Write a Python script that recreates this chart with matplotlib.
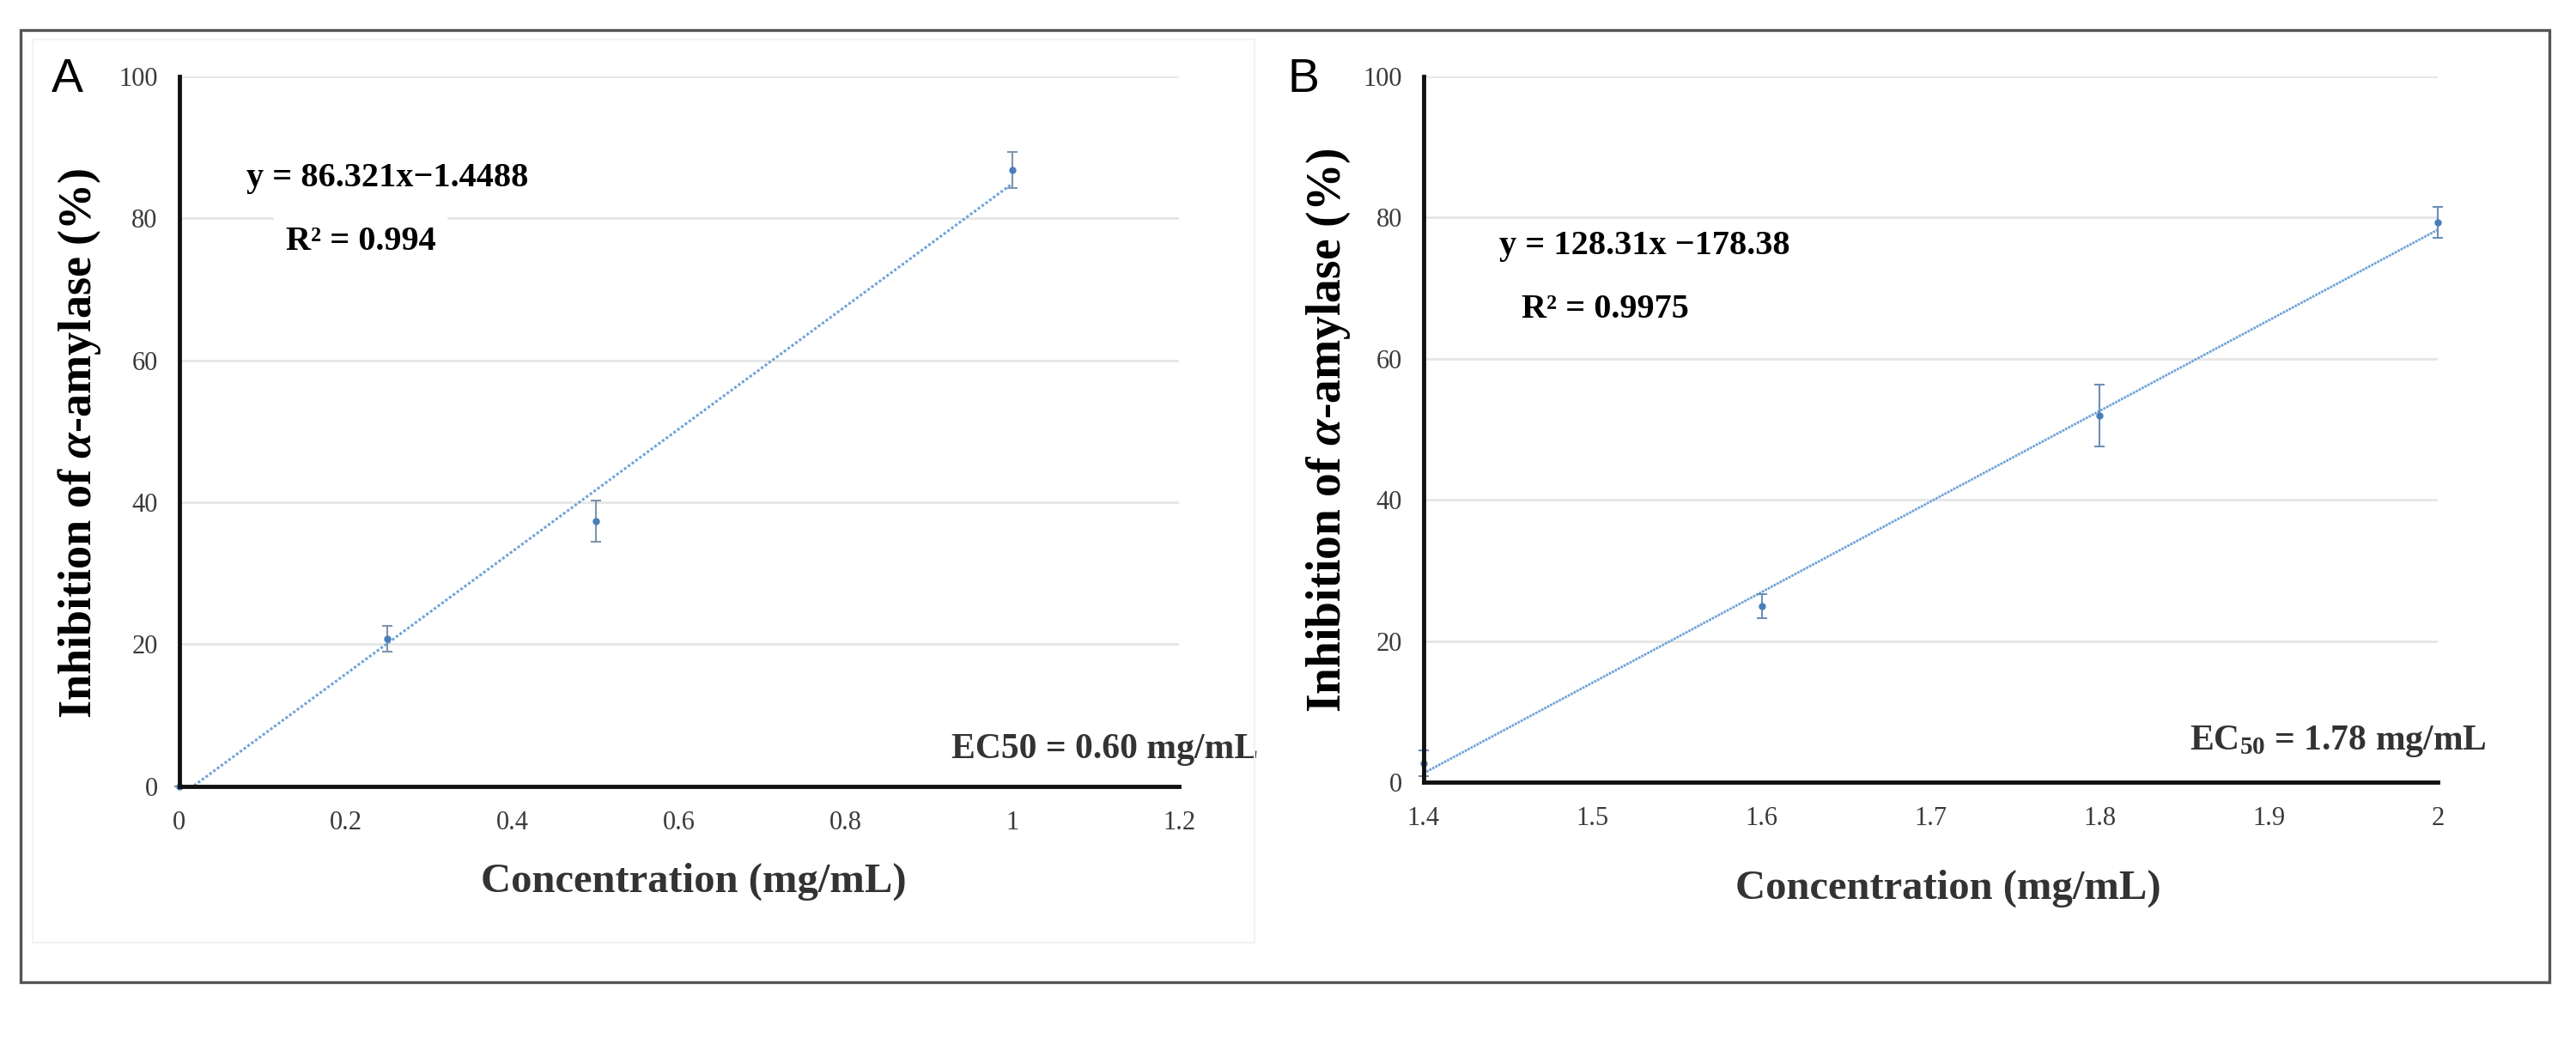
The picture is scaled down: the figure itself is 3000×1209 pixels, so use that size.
import matplotlib
matplotlib.use("Agg")
from matplotlib import pyplot as plt
from matplotlib.patches import Rectangle
import numpy as np

plt.rcParams['font.family'] = ['Liberation Serif', 'DejaVu Serif']
plt.rcParams['mathtext.fontset'] = 'custom'
plt.rcParams['mathtext.rm'] = 'Liberation Serif:bold'
plt.rcParams['mathtext.bf'] = 'Liberation Serif:bold'
plt.rcParams['mathtext.it'] = 'Liberation Serif:italic:bold'

# data
conc_a = [0, 0.25, 0.5, 1.0]
inh_a = [0.0, 20.8, 37.4, 86.8]
err_a = [0.0, 1.8, 2.9, 2.5]
slope_a, icpt_a = 86.321, -1.4488
xticks_a = [0, 0.2, 0.4, 0.6, 0.8, 1, 1.2]
xlabels_a = ['0', '0.2', '0.4', '0.6', '0.8', '1', '1.2']

conc_b = [1.4, 1.6, 1.8, 2.0]
inh_b = [2.7, 24.9, 51.9, 79.3]
err_b = [1.8, 1.7, 4.4, 2.2]
slope_b, icpt_b = 128.31, -178.38
xticks_b = [1.4, 1.5, 1.6, 1.7, 1.8, 1.9, 2.0]
xlabels_b = ['1.4', '1.5', '1.6', '1.7', '1.8', '1.9', '2']

yticks = [0, 20, 40, 60, 80, 100]

line_col = '#6fa3d8'
pt_col = '#4a7ebb'
tick_col = '#3a3a3a'

fig = plt.figure(figsize=(30, 12.09), dpi=100)

# outer frame + faint inner box of panel A
fig.add_artist(Rectangle((0.008, 0.054), 0.9815, 0.917, transform=fig.transFigure,
                         fill=False, edgecolor='#555555', linewidth=2.4))
fig.add_artist(Rectangle((0.0127, 0.0918), 0.4743, 0.87, transform=fig.transFigure,
                         fill=False, edgecolor='#f3f3f3', linewidth=1.5))

ax_a = fig.add_axes([0.0695, 0.2424, 0.3882, 0.6842])
ax_b = fig.add_axes([0.5526, 0.2465, 0.3937, 0.6801])


def style_axes(ax, xlim, xticks, xlabels):
    ax.set_xlim(*xlim)
    ax.set_ylim(0, 100)
    ax.set_xticks(xticks)
    ax.set_xticklabels(xlabels)
    ax.set_yticks(yticks)
    ax.grid(axis='y', color='#e6e6e6', linewidth=2)
    ax.set_axisbelow(True)
    for s in ['top', 'right']:
        ax.spines[s].set_visible(False)
    for s in ['left', 'bottom']:
        ax.spines[s].set_linewidth(3.5)
        ax.spines[s].set_color('#111111')
    ax.tick_params(axis='both', length=0, labelsize=22, labelcolor=tick_col)
    ax.tick_params(axis='x', pad=20)
    ax.tick_params(axis='y', pad=18)


# panel A
style_axes(ax_a, (0, 1.2), xticks_a, xlabels_a)
xs = np.array([min(conc_a), max(conc_a)])
ax_a.plot(xs, slope_a * xs + icpt_a, color=line_col, lw=2.2, ls=(0, (1, 0.8)))
ax_a.errorbar(conc_a, inh_a, yerr=err_a, fmt='o', ms=5, color=pt_col,
              ecolor='#7f95ad', elinewidth=1.5, capsize=4, capthick=1.5, clip_on=False)
ax_a.text(0.081, 85.6, 'y = 86.321x−1.4488', fontsize=29, fontweight='bold', va='center')
ax_a.text(0.128, 76.7, 'R² = 0.994', fontsize=29, fontweight='bold', va='center',
          bbox=dict(facecolor='white', edgecolor='none', pad=10))
ax_a.text(1.295, 5.2, 'EC50 = 0.60 mg/mL', fontsize=30, fontweight='bold',
          ha='right', va='center', color='#333333', clip_on=False)
ax_a.set_xlabel('Concentration (mg/mL)', fontsize=35, fontweight='bold', color='#333333')
ax_a.set_ylabel(r'Inhibition of $\alpha$-amylase (%)', fontsize=39, fontweight='bold')
ax_a.xaxis.set_label_coords(0.515, -0.107)
ax_a.yaxis.set_label_coords(-0.076, 0.483)
fig.text(0.026, 0.923, 'A', fontsize=40, family='Liberation Sans', va='center', ha='center')

# panel B
style_axes(ax_b, (1.4, 2.0), xticks_b, xlabels_b)
xs = np.array([min(conc_b), max(conc_b)])
ax_b.plot(xs, slope_b * xs + icpt_b, color=line_col, lw=2.0, ls=(0, (1, 0.4)))
ax_b.errorbar(conc_b, inh_b, yerr=err_b, fmt='o', ms=5, color=pt_col,
              ecolor='#6b8fb8', elinewidth=1.5, capsize=4, capthick=1.5, clip_on=False)
ax_b.text(1.445, 75.9, 'y = 128.31x −178.38', fontsize=29, fontweight='bold', va='center')
ax_b.text(1.458, 66.9, 'R² = 0.9975', fontsize=29, fontweight='bold', va='center')
ax_b.text(2.029, 5.8, r'EC$_{50}$ = 1.78 mg/mL', fontsize=30, fontweight='bold',
          ha='right', va='center', color='#333333', clip_on=False)
ax_b.set_xlabel('Concentration (mg/mL)', fontsize=35, fontweight='bold', color='#333333')
ax_b.set_ylabel(r'Inhibition of $\alpha$-amylase (%)', fontsize=40, fontweight='bold')
ax_b.xaxis.set_label_coords(0.517, -0.123)
ax_b.yaxis.set_label_coords(-0.070, 0.499)
fig.text(0.506, 0.923, 'B', fontsize=40, family='Liberation Sans', va='center', ha='center')

plt.savefig('out.png', dpi=100)
